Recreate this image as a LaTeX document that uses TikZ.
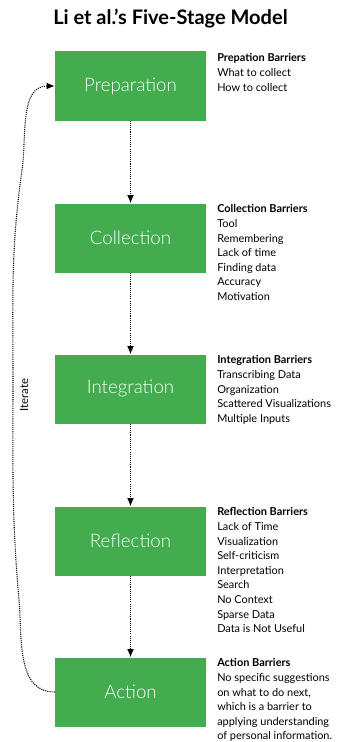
\documentclass[tikz,border=0pt]{standalone}
\usepackage{fontspec}
\setmainfont{Lato}
\newfontfamily\lightfont{Lato Light}
\usetikzlibrary{arrows.meta}
\definecolor{boxgreen}{RGB}{67,172,79}
\tikzset{
  stagebox/.style={fill=boxgreen, draw=none, minimum width=151*0.75pt, minimum height=69*0.75pt,
    inner sep=0pt, text=white, font=\lightfont\fontsize{14}{16}\selectfont},
  barrier/.style={anchor=north west, inner sep=0pt, align=left, text=black,
    font=\fontsize{8.2}{10.95}\selectfont},
  flow/.style={line width=0.8pt, dash pattern=on 0.8pt off 0.8pt, -{Latex[length=6pt,width=5pt]}},
}
\begin{document}
\begin{tikzpicture}[x=0.75pt,y=-0.75pt]
\useasboundingbox (0,0) rectangle (348,742);
\node[anchor=base west, inner sep=0pt, font=\bfseries\fontsize{15}{18}\selectfont] (title) at (53,25) {Li et al.’s Five-Stage Model};

\node[stagebox] (prep) at (130.5,86) {Preparation};
\node[stagebox] (coll) at (130.5,238) {Collection};
\node[stagebox] (integ) at (130.5,389) {Integration};
\node[stagebox] (refl) at (130.5,541) {Reflection};
\node[stagebox] (act) at (130.5,692) {Action};

\node[barrier] (bprep) at (217,53.5) {\textbf{Prepation Barriers}\\What to collect\\How to collect};
\node[barrier] (bcoll) at (217,204.5) {\textbf{Collection Barriers}\\Tool\\Remembering\\Lack of time\\Finding data\\Accuracy\\Motivation};
\node[barrier] (binteg) at (217,355.5) {\textbf{Integration Barriers}\\Transcribing Data\\Organization\\Scattered Visualizations\\Multiple Inputs};
\node[barrier] (brefl) at (217,507.5) {\textbf{Reflection Barriers}\\Lack of Time\\Visualization\\Self-criticism\\Interpretation\\Search\\No Context\\Sparse Data\\Data is Not Useful};
\node[barrier] (bact) at (217,658.5) {\textbf{Action Barriers}\\No specific suggestions\\on what to do next,\\which is a barrier to\\applying understanding\\of personal information.};

\draw[flow] (prep.south) -- (coll.north);
\draw[flow] (coll.south) -- (integ.north);
\draw[flow] (integ.south) -- (refl.north);
\draw[flow] (refl.south) -- (act.north);

\coordinate (l1) at (19,600);
\coordinate (l2) at (13,380);
\coordinate (l3) at (22,170);
\draw[flow] (act.west) to[out=180,in=-85] (l1) to[out=95,in=-90] (l2) to[out=90,in=-98] (l3) to[out=82,in=180] (prep.west);
\node[rotate=90, inner sep=0pt, font=\fontsize{8.5}{10}\selectfont] (iter) at (24,395) {Iterate};
\end{tikzpicture}
\end{document}
